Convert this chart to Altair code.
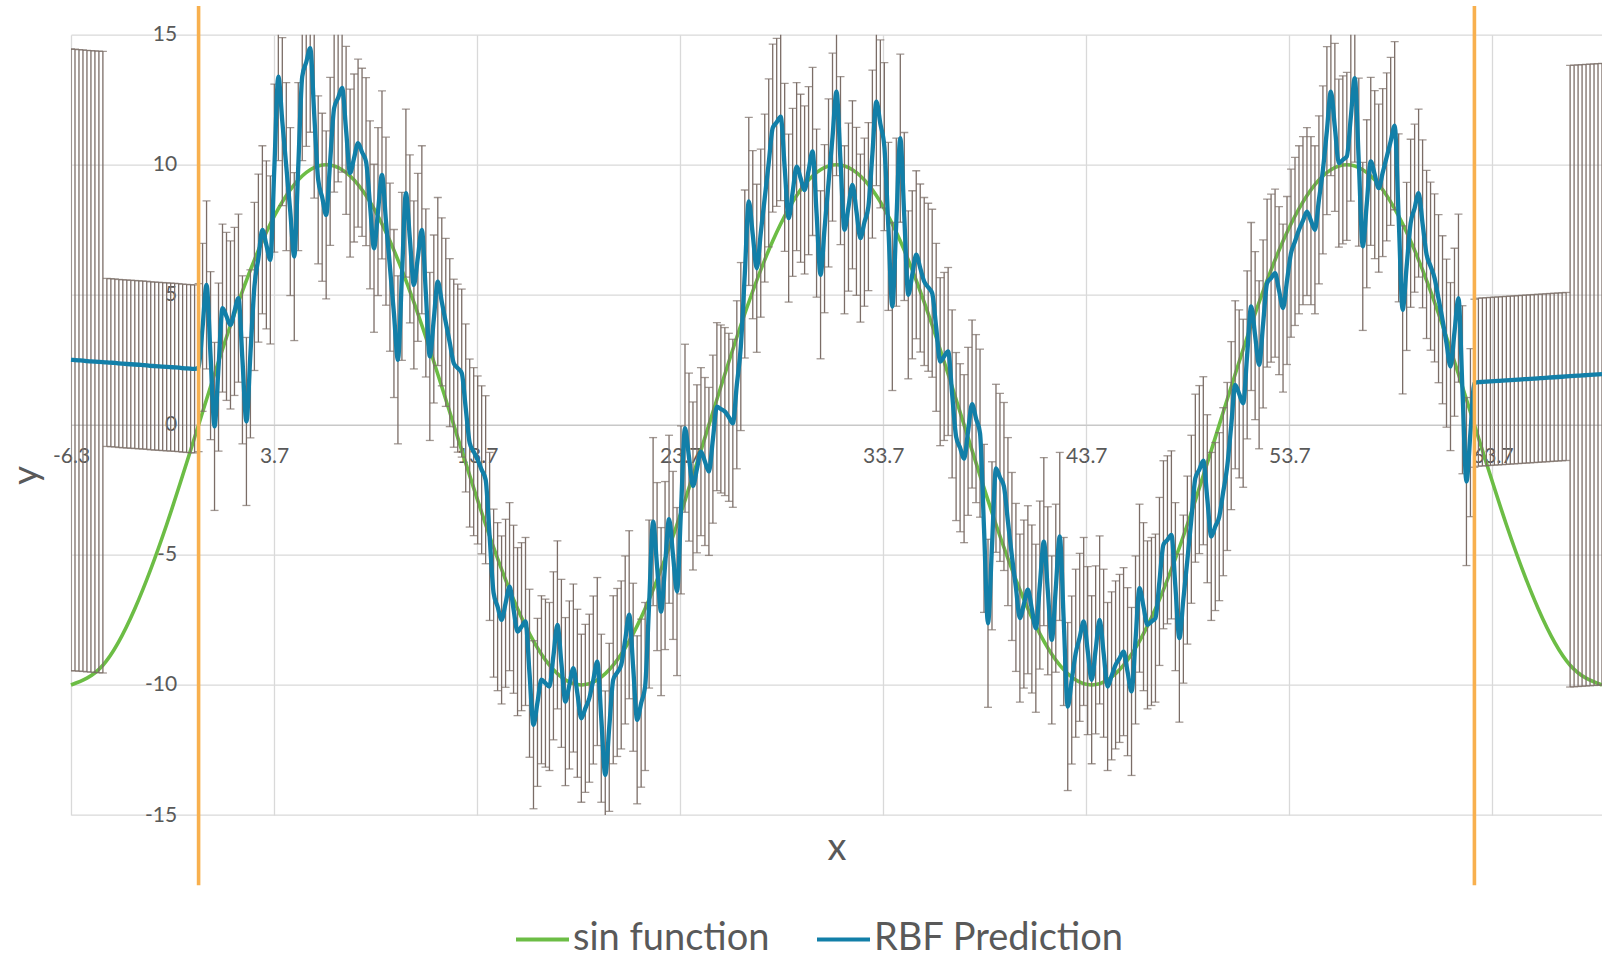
import numpy as np
import pandas as pd
import altair as alt

PI = np.pi
STEP = PI / 16          # spacing of the prediction samples / error bars
SIN_STEP = PI / 2       # spacing of the sampled sin curve

# RBF prediction (left extrapolation, training range, right extrapolation)
pred_left = [2.50, 2.49, 2.48, 2.47, 2.45, 2.44, 2.43, 2.42, 2.41, 2.40, 2.39, 2.38, 2.36, 2.35, 2.34, 2.33,
             2.32, 2.31, 2.30, 2.29, 2.27, 2.26, 2.25, 2.24, 2.23, 2.22, 2.21, 2.20, 2.18, 2.17, 2.16, 2.15]
pred_train = [
    2.20, 3.75, 5.38, 2.66, -0.06, 2.22, 4.49, 4.17, 3.84, 4.36,
    4.87, 2.50, 0.13, 2.73, 5.32, 6.41, 7.50, 6.92, 6.34, 9.87,
    13.39, 11.66, 9.93, 8.20, 6.47, 9.93, 13.39, 13.94, 14.48, 11.95,
    9.42, 8.75, 8.07, 10.13, 12.18, 12.57, 12.95, 11.32, 9.68, 10.26,
    10.83, 10.48, 10.12, 8.46, 6.79, 8.20, 9.61, 7.83, 6.06, 4.28,
    2.50, 5.71, 8.91, 7.15, 5.38, 6.44, 7.50, 5.07, 2.63, 4.07,
    5.51, 4.73, 3.94, 3.16, 2.37, 2.18, 1.99, 0.65, -0.70, -1.03,
    -1.35, -1.73, -2.11, -4.29, -6.47, -6.99, -7.50, -6.86, -6.22, -7.09,
    -7.95, -7.76, -7.56, -9.55, -11.53, -10.67, -9.80, -9.93, -10.06, -8.88,
    -7.69, -9.17, -10.64, -10.00, -9.35, -10.32, -11.28, -10.90, -10.51, -9.81,
    -9.10, -11.28, -13.46, -11.63, -9.80, -9.52, -9.23, -8.27, -7.30, -9.32,
    -11.34, -10.70, -10.06, -6.89, -3.72, -5.45, -7.18, -5.41, -3.63, -5.02,
    -6.41, -3.27, -0.13, -1.24, -2.35, -1.69, -1.03, -1.41, -1.79, -0.55,
    0.70, 0.61, 0.51, 0.29, 0.06, 1.54, 3.01, 5.80, 8.59, 7.31,
    6.02, 7.37, 8.72, 10.07, 11.41, 11.63, 11.85, 9.90, 7.95, 8.94,
    9.93, 9.48, 9.03, 9.77, 10.51, 8.14, 5.77, 7.54, 9.30, 11.06,
    12.81, 10.16, 7.50, 8.37, 9.23, 8.21, 7.18, 7.79, 8.39, 10.41,
    12.43, 11.57, 10.70, 7.63, 4.55, 7.79, 11.02, 8.01, 5.00, 5.77,
    6.54, 6.03, 5.51, 5.29, 5.06, 3.75, 2.43, 2.63, 2.82, 1.19,
    -0.45, -0.88, -1.30, -0.25, 0.80, 0.24, -0.32, -3.98, -7.63, -4.65,
    -1.67, -2.02, -2.37, -3.72, -5.06, -6.25, -7.43, -6.89, -6.34, -7.08,
    -7.82, -6.16, -4.49, -6.38, -8.27, -6.28, -4.29, -7.56, -10.83, -9.81,
    -8.78, -8.17, -7.56, -8.68, -9.80, -8.65, -7.50, -8.78, -10.06, -9.65,
    -9.23, -8.98, -8.72, -9.49, -10.25, -8.27, -6.28, -6.99, -7.69, -7.56,
    -7.43, -6.02, -4.61, -4.42, -4.23, -6.22, -8.20, -6.70, -5.20, -3.63,
    -2.05, -1.72, -1.38, -2.84, -4.29, -3.91, -3.53, -2.57, -1.60, -0.03,
    1.54, 1.19, 0.83, 2.69, 4.55, 3.43, 2.31, 3.88, 5.45, 5.64,
    5.83, 5.16, 4.49, 5.55, 6.60, 7.05, 7.50, 7.85, 8.20, 7.85,
    7.50, 8.65, 9.80, 11.31, 12.81, 11.44, 10.06, 10.19, 10.32, 11.83,
    13.33, 10.10, 6.86, 8.50, 10.13, 9.62, 9.10, 9.70, 10.30, 10.90,
    11.50, 7.96, 4.42, 6.09, 7.75, 8.33, 8.91, 7.73, 6.55, 6.10,
    5.65, 4.85, 4.04, 3.14, 2.24, 3.56, 4.87, 1.35, -2.18, -0.30,
    1.60,
]
pred_right = [1.64, 1.65, 1.66, 1.67, 1.68, 1.69, 1.70, 1.71, 1.72, 1.73, 1.74, 1.75, 1.76, 1.77, 1.78, 1.79,
              1.80, 1.81, 1.82, 1.83, 1.84, 1.85, 1.86, 1.87, 1.88, 1.89, 1.90, 1.91, 1.92, 1.93, 1.94, 1.95]

# error bar half-widths: fixed near the data, wide for the outermost extrapolated points
ERR_NEAR = 3.23
ERR_FAR = 11.95
N_FAR = 9

# sin function (10 sin(x/4)) read at steps of pi/2 starting at -2*pi
sin_y = [-10, -9.24, -7.07, -3.83, 0, 3.83, 7.07, 9.24, 10, 9.24, 7.07, 3.83, 0, -3.83, -7.07, -9.24,
         -10, -9.24, -7.07, -3.83, 0, 3.83, 7.07, 9.24, 10, 9.24, 7.07, 3.83, 0, -3.83, -7.07, -9.24,
         -10, -9.24, -7.07, -3.83, 0, 3.83, 7.07, 9.24, 10, 9.24, 7.07, 3.83, 0, -3.83, -7.07, -9.24,
         -10]

# training-range boundaries (orange markers) and their drawn extent
bound_x = [0.0, 20 * PI]
bound_top = 16.1
bound_bot = -17.7

x_ticks = [-6.2831, 3.7168, 13.7168, 23.7168, 33.7168, 43.7168, 53.7168, 63.7168]
y_ticks = [-15, -10, -5, 0, 5, 10, 15]
series_names = ["sin function", "RBF Prediction"]

GREEN = "#6CBD45"
BLUE = "#127FA8"
ORANGE = "#F8B04E"
BAR = "#7B6D67"
GRID = "#D9D9D9"
TXT = "#595959"
FONT = "Lato"
MINUS_FIX = "replace(datum.label, '\u2212', '-')"

# ---- tables ----
pred = pred_left + pred_train + pred_right
n = len(pred)
k0 = len(pred_left)
err = [ERR_FAR] * N_FAR + [ERR_NEAR] * (n - 2 * N_FAR) + [ERR_FAR] * N_FAR
df_pred = pd.DataFrame({
    "x": (np.arange(n) - k0) * STEP,
    "y": pred,
    "err": err,
    "series": "RBF Prediction",
})
df_pred["lo"] = df_pred["y"] - df_pred["err"]
df_pred["hi"] = df_pred["y"] + df_pred["err"]

df_sin = pd.DataFrame({
    "x": -2 * PI + np.arange(len(sin_y)) * SIN_STEP,
    "y": sin_y,
    "series": "sin function",
})
df_bound = pd.DataFrame({"x": bound_x, "top": bound_top, "bot": bound_bot})

W, H = 1531, 780.3
PAD_L, PAD_T = 71, 34.7
x_scale = alt.Scale(domain=[-2 * PI, 22 * PI], nice=False, zero=False)
y_scale = alt.Scale(domain=[-15, 15], nice=False, zero=False)

y0_px = H / 2          # y = 0 position within the plot
x0_px = (0 + 2 * PI) / (24 * PI) * W  # x = 0 position within the plot

x_axis = alt.Axis(
    values=x_ticks, format=".1f", labelExpr=MINUS_FIX, grid=True, gridColor=GRID, gridWidth=1.3,
    domain=True, domainColor="#C8C8C8", domainWidth=1.3, ticks=False,
    labelFont=FONT, labelFontSize=21, labelColor=TXT, labelPadding=21,
    labelFlush=False, labelOverlap=False, offset=-(H - y0_px),
    title="x", titleFont=FONT, titleFontSize=38, titleFontWeight="normal", titleColor=TXT,
    titleX=W / 2, titleY=435, titleBaseline="alphabetic", titleAlign="center",
)
y_axis = alt.Axis(
    values=y_ticks, format="d", labelExpr=MINUS_FIX, grid=True, gridColor=GRID, gridWidth=1.3,
    domain=False, ticks=False,
    labelFont=FONT, labelFontSize=21, labelColor=TXT, labelPadding=22,
    labelFlush=False, labelOverlap=False, offset=-x0_px,
    title="y", titleFont=FONT, titleFontSize=37, titleFontWeight="normal", titleColor=TXT,
    titleAngle=270, titleX=-(x0_px + PAD_L - 37), titleY=475 - PAD_T,
    titleBaseline="alphabetic", titleAlign="center",
)

color = alt.Color(
    "series:N",
    scale=alt.Scale(domain=series_names, range=[GREEN, BLUE]),
    legend=alt.Legend(
        title=None, orient="none", legendX=443, legendY=876, direction="horizontal",
        symbolType="stroke", symbolSize=53 * 53, symbolStrokeWidth=4,
        labelFont=FONT, labelFontSize=38, labelColor=TXT, labelOffset=2,
        labelLimit=0, columnPadding=39, padding=0,
    ),
)

X = alt.X("x:Q", scale=x_scale, axis=x_axis)


def Y(field):
    return alt.Y(field, scale=y_scale, axis=y_axis, title="y")


sin_line = alt.Chart(df_sin).mark_line(strokeWidth=3.6, interpolate="natural").encode(
    x=X, y=Y("y:Q"), color=color,
)

bars = alt.Chart(df_pred).mark_rule(color=BAR, strokeWidth=1.3, clip=True).encode(
    x=X, y=Y("lo:Q"), y2="hi:Q",
)
cap_hi = alt.Chart(df_pred).mark_tick(color=BAR, thickness=1.3, size=8, orient="horizontal", clip=True).encode(
    x=X, y=Y("hi:Q"),
)
cap_lo = alt.Chart(df_pred).mark_tick(color=BAR, thickness=1.3, size=8, orient="horizontal", clip=True).encode(
    x=X, y=Y("lo:Q"),
)

pred_line = alt.Chart(df_pred).mark_line(strokeWidth=4.3, interpolate="monotone", strokeJoin="round").encode(
    x=X, y=Y("y:Q"), color=color,
)

bounds = alt.Chart(df_bound).mark_rule(color=ORANGE, strokeWidth=3.6).encode(
    x=X, y=Y("top:Q"), y2="bot:Q",
)

chart = alt.layer(sin_line, bars, cap_hi, cap_lo, pred_line, bounds).properties(
    width=W, height=H,
    autosize=alt.AutoSizeParams(type="none"),
    padding={"left": PAD_L, "top": PAD_T, "right": 0, "bottom": 957 - PAD_T - H},
    background="white",
).configure_view(stroke=None)

chart.save("out.html", embed_options={"renderer": "svg", "actions": False})
